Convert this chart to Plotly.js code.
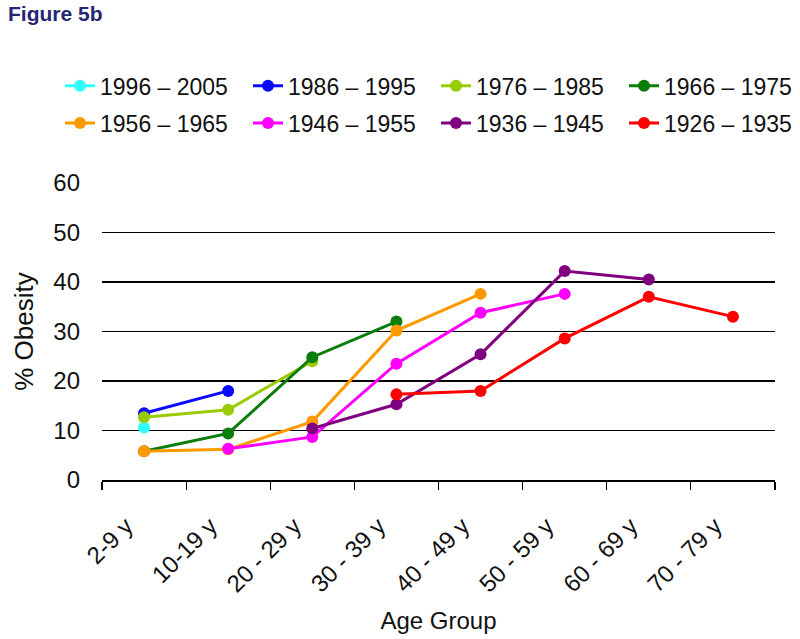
<!DOCTYPE html>
<html>
<head>
<meta charset="utf-8">
<script src="https://cdn.plot.ly/plotly-3.0.1.min.js"></script>
<style>html,body{margin:0;padding:0;background:#fff;}#chart{width:800px;height:639px;}</style>
</head>
<body>
<div id="chart"></div>
<script>
const ageGroups = ["2-9 y", "10-19 y", "20 - 29 y", "30 - 39 y", "40 - 49 y", "50 - 59 y", "60 - 69 y", "70 - 79 y"];

const cohortNames = ["1996 – 2005", "1986 – 1995", "1976 – 1985", "1966 – 1975",
                     "1956 – 1965", "1946 – 1955", "1936 – 1945", "1926 – 1935"];
const cohortColors = ["#33ffff", "#0a0aff", "#99cc00", "#0a7d0a",
                      "#ff9900", "#ff00ff", "#800080", "#ff0000"];

const c1996_2005 = [10.6, null, null, null, null, null, null, null];
const c1986_1995 = [13.5, 18.0, null, null, null, null, null, null];
const c1976_1985 = [12.7, 14.2, 24.0, null, null, null, null, null];
const c1966_1975 = [5.8, 9.4, 24.8, 32.0, null, null, null, null];
const c1956_1965 = [5.8, 6.2, 11.8, 30.2, 37.6, null, null, null];
const c1946_1955 = [null, 6.3, 8.7, 23.5, 33.8, 37.6, null, null];
const c1936_1945 = [null, null, 10.4, 15.3, 25.4, 42.2, 40.5, null];
const c1926_1935 = [null, null, null, 17.3, 18.0, 28.6, 37.0, 33.0];

const seriesValues = [c1996_2005, c1986_1995, c1976_1985, c1966_1975,
                      c1956_1965, c1946_1955, c1936_1945, c1926_1935];

const traces = seriesValues.map((vals, i) => ({
  type: "scatter",
  mode: "lines+markers",
  name: cohortNames[i],
  x: ageGroups,
  y: vals,
  line: {color: cohortColors[i], width: 3},
  marker: {color: cohortColors[i], size: 12},
  legend: i < 4 ? "legend" : "legend2",
  connectgaps: false,
  hoverinfo: "x+y+name"
}));

const legendCommon = {
  orientation: "h",
  xanchor: "left",
  yanchor: "middle",
  x: -0.0624,
  font: {family: "Liberation Sans, Arial, sans-serif", size: 23, color: "#111"},
  entrywidth: 143,
  entrywidthmode: "pixels",
  bgcolor: "rgba(0,0,0,0)",
  traceorder: "normal"
};

const layout = {
  width: 800,
  height: 639,
  paper_bgcolor: "#fff",
  plot_bgcolor: "#fff",
  margin: {l: 102, r: 25, t: 183, b: 159, autoexpand: false},
  showlegend: true,
  font: {family: "Liberation Sans, Arial, sans-serif", color: "#111"},
  legend: Object.assign({}, legendCommon, {y: 1.327}),
  legend2: Object.assign({}, legendCommon, {y: 1.202}),
  xaxis: {
    type: "category",
    categoryorder: "array",
    categoryarray: ageGroups,
    range: [-0.5, 7.5],
    tickangle: -45,
    tickson: "boundaries",
    ticks: "outside",
    ticklen: 8,
    tickwidth: 1.2,
    tickcolor: "#000",
    showline: true,
    linecolor: "#000",
    linewidth: 1.5,
    showgrid: false,
    zeroline: false,
    ticklabelstandoff: 21,
    ticklabelshift: -18,
    tickfont: {size: 24, color: "#111"},
    title: {text: "Age Group", font: {size: 24, color: "#111"}, standoff: 16}
  },
  yaxis: {
    range: [0, 60],
    tickvals: [0, 10, 20, 30, 40, 50, 60],
    showgrid: true,
    gridcolor: "#000",
    gridwidth: 1.2,
    zeroline: false,
    showline: false,
    ticks: "",
    tickfont: {size: 24, color: "#111"},
    ticklabelstandoff: 21,
    title: {text: "% Obesity", font: {size: 26, color: "#111"}, standoff: 12}
  },
  annotations: [{
    text: "<b>Figure 5b</b>",
    xref: "paper", yref: "paper",
    x: -0.143, y: 1.572,
    xanchor: "left", yanchor: "middle",
    showarrow: false,
    font: {family: "Liberation Sans, Arial, sans-serif", size: 21, color: "#262673"}
  }]
};

Plotly.newPlot("chart", traces, layout, {displayModeBar: false, staticPlot: true});
</script>
</body>
</html>
